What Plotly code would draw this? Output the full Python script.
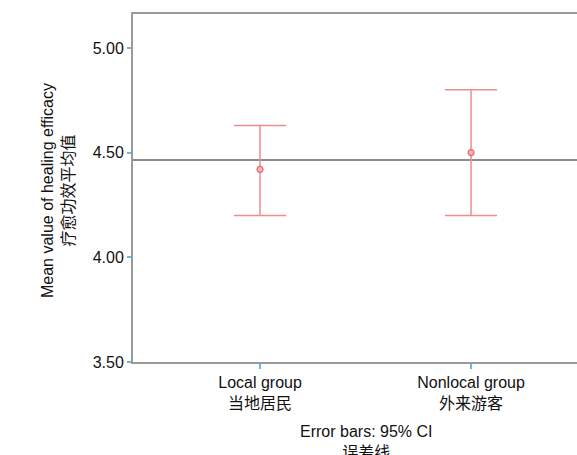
import plotly.graph_objects as go

# Group means of healing efficacy with 95% confidence intervals
groups = ["Local group<br>当地居民", "Nonlocal group<br>外来游客"]
means = [4.42, 4.50]
ci_upper = [4.63, 4.80]
ci_lower = [4.20, 4.20]
overall_mean = 4.465

y_ticks = [3.5, 4.0, 4.5, 5.0]
y_ticklabels = ["3.50", "4.00", "4.50", "5.00"]

x_pos = list(range(len(groups)))
err_plus = [u - m for u, m in zip(ci_upper, means)]
err_minus = [m - l for m, l in zip(means, ci_lower)]

font_family = "Arial, Liberation Sans, Noto Sans CJK SC, sans-serif"
axis_grey = "#9a9a9a"
tick_blue = "#6fb8dc"
bar_red = "#f08c8c"

fig = go.Figure()

fig.add_trace(go.Scatter(
    x=x_pos,
    y=means,
    mode="markers",
    marker=dict(size=6, color="#f6b2b2", line=dict(color="#e86a6a", width=1.2)),
    error_y=dict(
        type="data",
        symmetric=False,
        array=err_plus,
        arrayminus=err_minus,
        color=bar_red,
        thickness=1.5,
        width=26,
    ),
    showlegend=False,
    hoverinfo="skip",
))

# Reference line at the overall mean
fig.add_shape(
    type="line", xref="paper", x0=0, x1=1, yref="y",
    y0=overall_mean, y1=overall_mean,
    line=dict(color="#8c8c8c", width=2),
    layer="below",
)

fig.update_layout(
    width=577,
    height=455,
    margin=dict(l=133, r=0, t=14, b=93),
    paper_bgcolor="white",
    plot_bgcolor="white",
    font=dict(family=font_family, size=16, color="#111111"),
    xaxis=dict(
        range=[-0.602, 1.502],
        tickmode="array",
        tickvals=x_pos,
        ticktext=groups,
        showgrid=False,
        zeroline=False,
        showline=True,
        linecolor=axis_grey,
        linewidth=2,
        mirror=True,
        ticks="outside",
        ticklen=5,
        tickwidth=2,
        tickcolor=tick_blue,
        tickfont=dict(size=16),
    ),
    yaxis=dict(
        range=[3.5, 5.162],
        tickmode="array",
        tickvals=y_ticks,
        ticktext=y_ticklabels,
        showgrid=False,
        zeroline=False,
        showline=True,
        linecolor=axis_grey,
        linewidth=2,
        ticks="outside",
        ticklen=4,
        tickwidth=2,
        tickcolor=tick_blue,
        tickfont=dict(size=16),
    ),
    annotations=[
        dict(
            text="Error bars: 95% CI<br>误差线",
            xref="paper", yref="paper",
            x=(366 - 133) / 444, y=-(442.5 - 362) / 348,
            xanchor="center", yanchor="middle",
            showarrow=False, font=dict(size=16),
        ),
        dict(
            text="Mean value of healing efficacy<br>疗愈功效平均值",
            xref="paper", yref="paper",
            x=-(133 - 58) / 444, y=(362 - 191) / 348,
            xanchor="center", yanchor="middle",
            textangle=-90,
            showarrow=False, font=dict(size=16),
        ),
    ],
)

fig.write_html("out.html")
